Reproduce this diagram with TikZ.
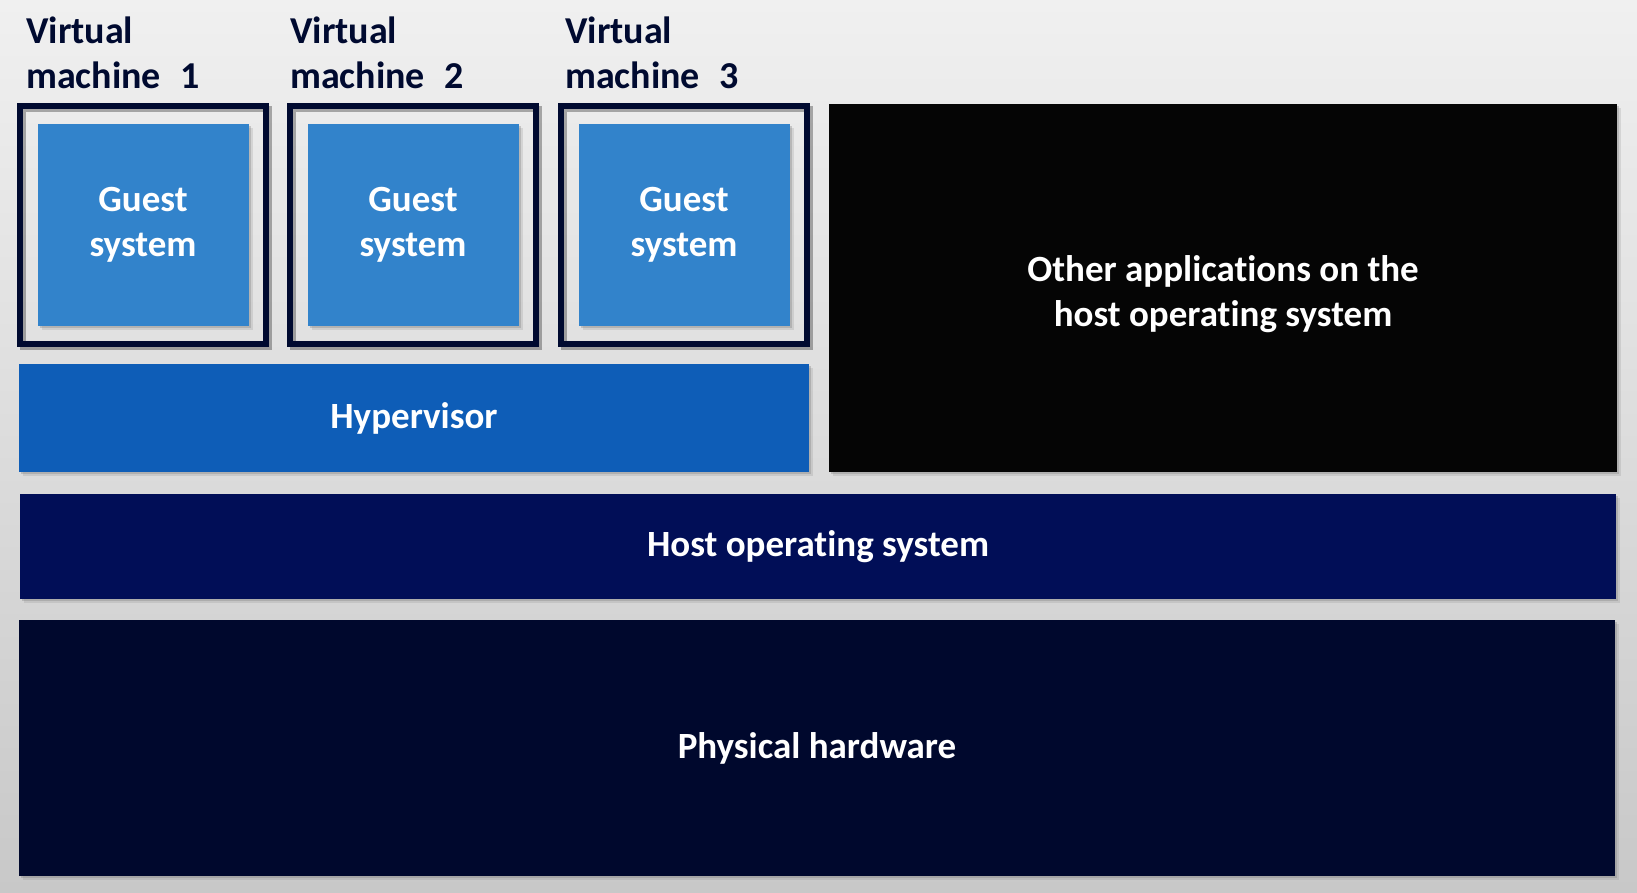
\documentclass[tikz,border=0pt]{standalone}
\usepackage{fontspec}
\setmainfont{Carlito}[RawFeature=-liga]
\usetikzlibrary{shadows}
\definecolor{guestblue}{RGB}{50,131,203}
\definecolor{hyperblue}{RGB}{14,93,183}
\definecolor{hostnavy}{RGB}{1,14,87}
\definecolor{hwnavy}{RGB}{0,8,45}
\definecolor{framenavy}{RGB}{0,10,48}
\definecolor{bgtop}{RGB}{240,240,240}
\definecolor{bgbot}{RGB}{200,200,200}
\begin{document}
\begin{tikzpicture}[x=1pt,y=-1pt,
	layer/.style={inner sep=0pt,outer sep=0pt,align=center,text=white,
		font=\fontsize{37}{45}\selectfont\bfseries,
		drop shadow={shadow xshift=2pt,shadow yshift=-2pt,opacity=.35},
		drop shadow={shadow xshift=4pt,shadow yshift=-4pt,opacity=.2}},
	vmframe/.style={draw=framenavy,line width=6pt,inner sep=0pt,minimum width=246pt,minimum height=238pt,
		preaction={draw=black,opacity=.3,transform canvas={xshift=3pt,yshift=-3pt}}},
	vmlabel/.style={anchor=base west,inner sep=0pt,align=left,text=framenavy,
		font=\fontsize{38}{45}\selectfont\bfseries}]
			\useasboundingbox(0,0) rectangle (1637,893);
			\shade[top color=bgtop,bottom color=bgbot](0,0) rectangle (1637,893);
			% virtual machines
			\foreach \i/\c/\lx in {1/143/26,2/413/290,3/684/565}{
				\node[vmframe] (vm\i) at(\c,225){};
				\node[layer,fill=guestblue,minimum width=211pt,minimum height=202pt] (guest\i) at(\c,225){Guest\\system};
				\node[vmlabel] (vmlabel\i) at(\lx,89){Virtual\\machine\hspace{0.5em}\i};
			}
			\node[layer,fill=hyperblue,minimum width=790pt,minimum height=108pt] (hyper) at(414,418){Hypervisor};
			\node[layer,fill=black!98,minimum width=788pt,minimum height=368pt] (otherapps) at(1223,288){};
			\node[text=white,align=center,inner sep=0pt,font=\fontsize{37}{45}\selectfont\bfseries] (otherappstext) at(1223,294){Other applications on the\\host operating system};
			\node[layer,fill=hostnavy,minimum width=1596pt,minimum height=105pt] (hostos) at(818,546.5){Host operating system};
			\node[layer,fill=hwnavy,minimum width=1596pt,minimum height=256pt] (hardware) at(817,748){Physical hardware};
			\end{tikzpicture}
\end{document}
